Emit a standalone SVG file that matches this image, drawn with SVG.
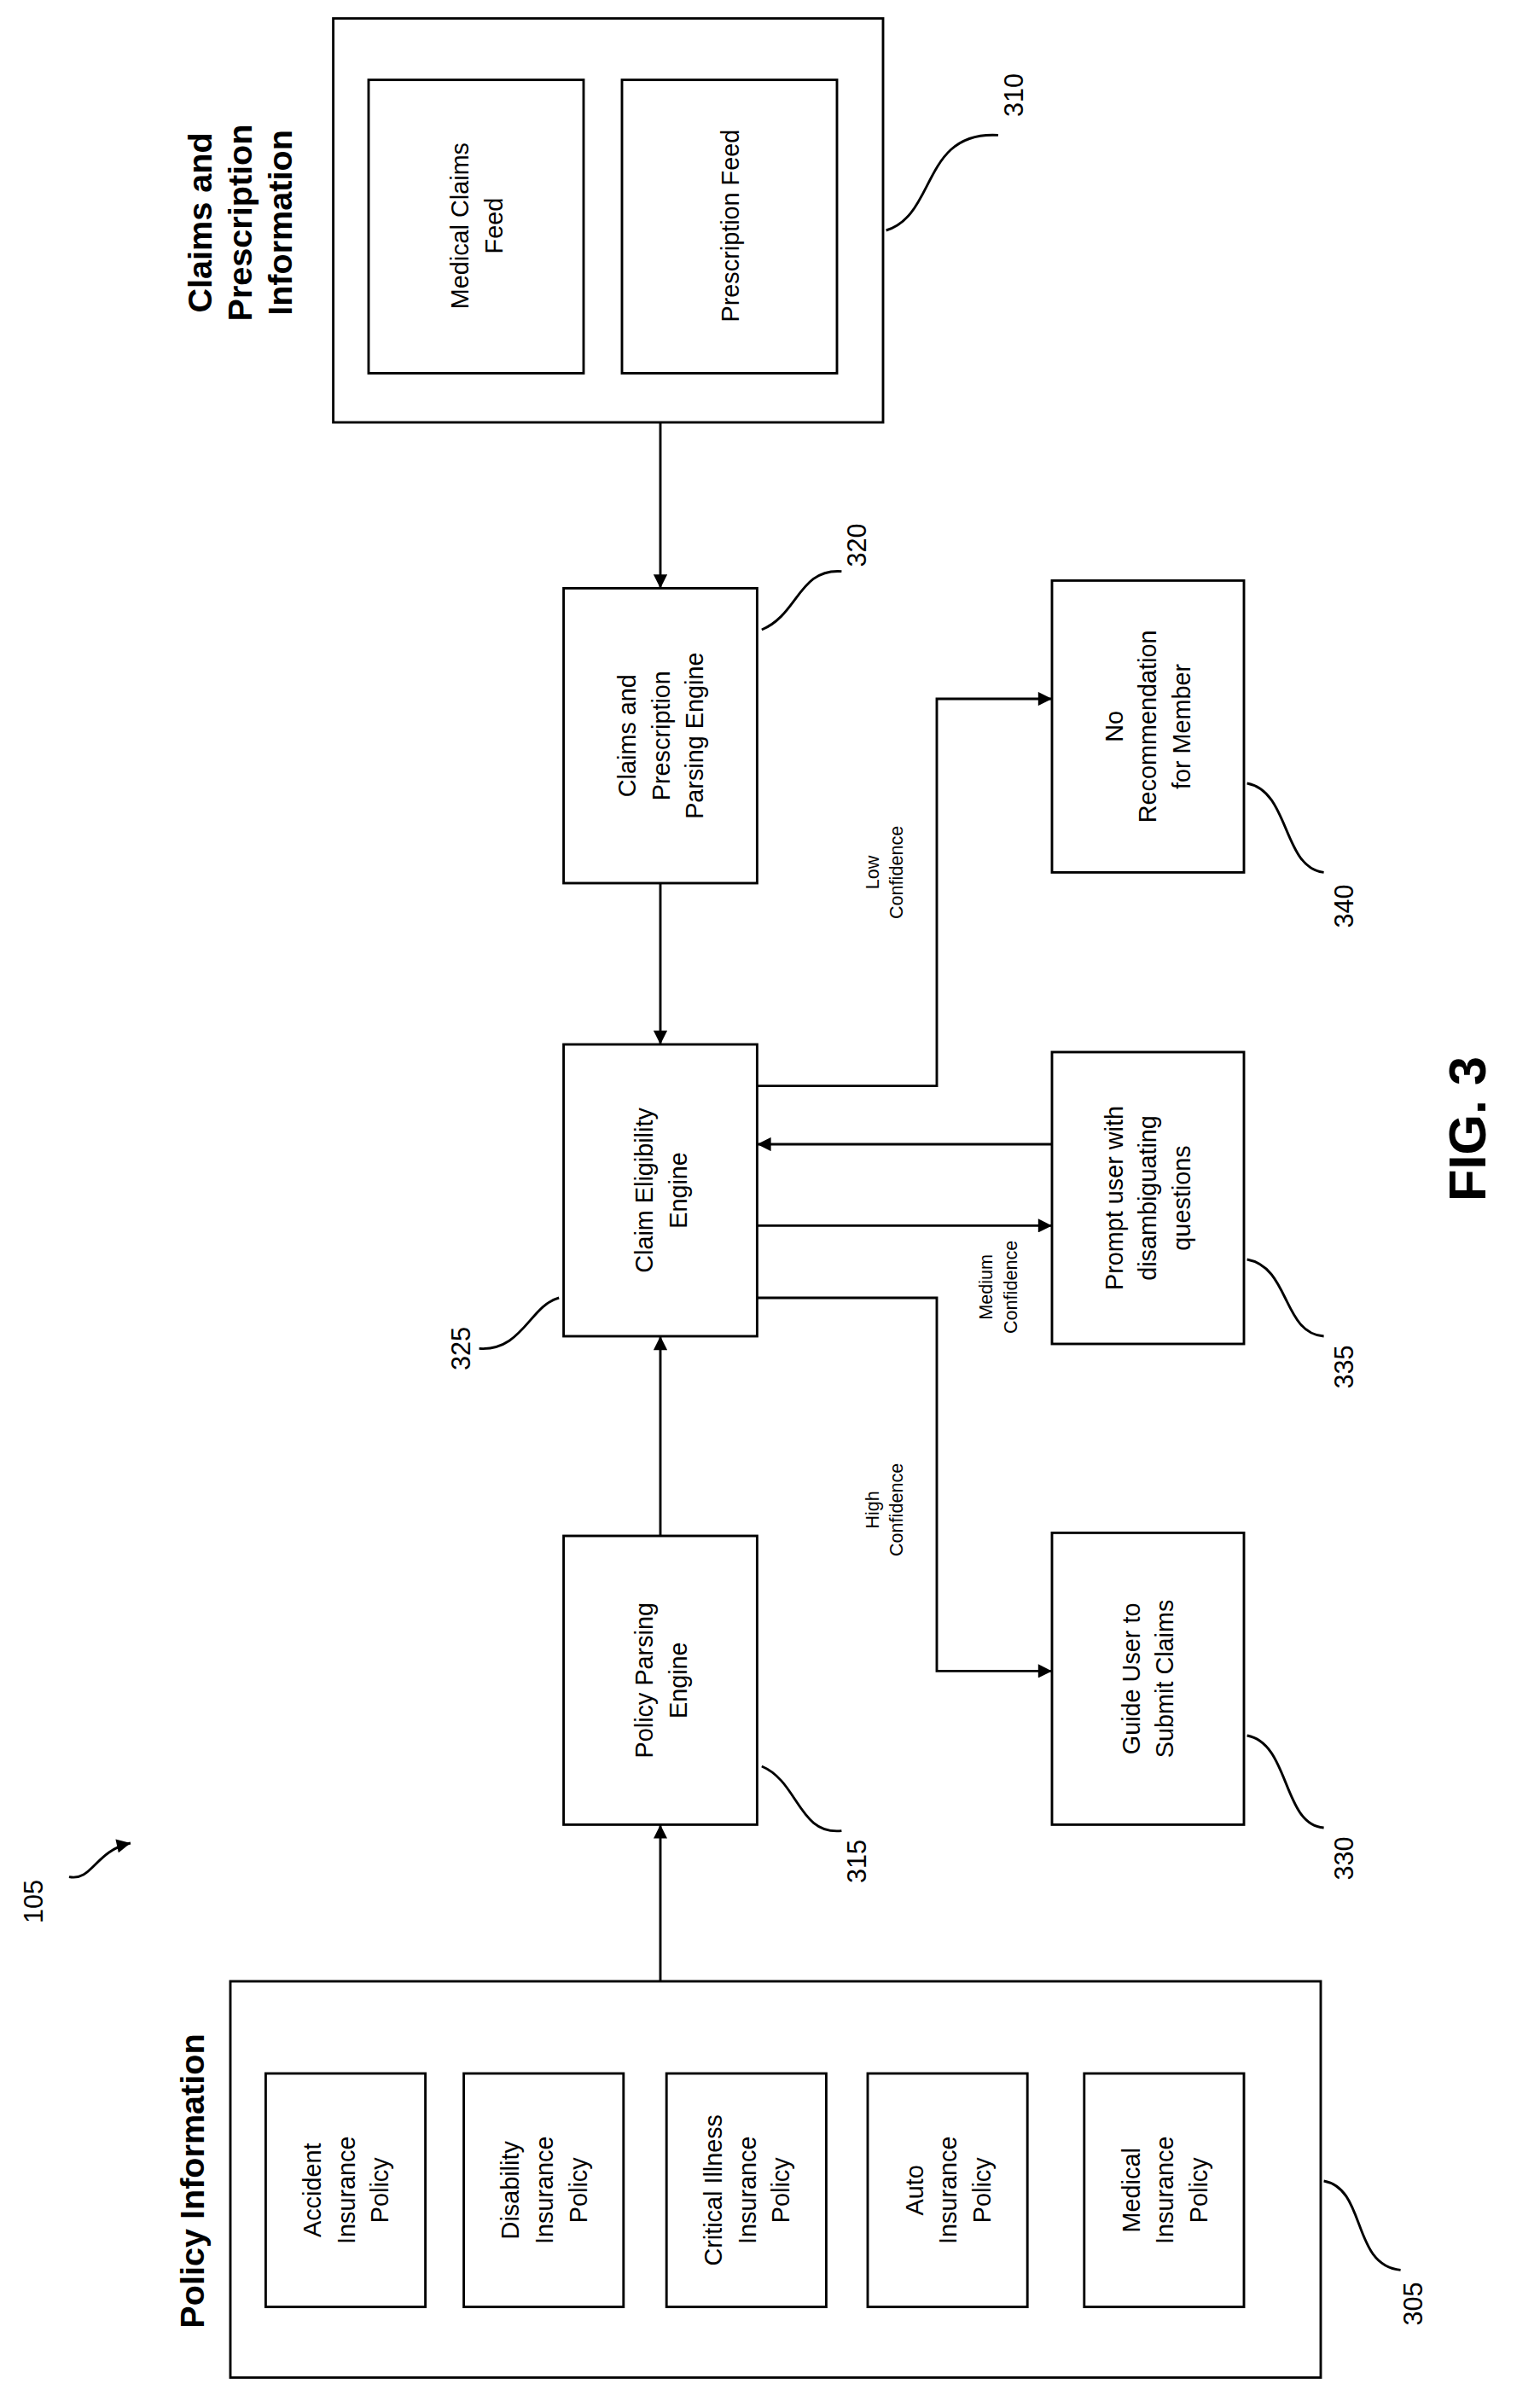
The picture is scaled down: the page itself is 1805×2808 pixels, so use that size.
<svg xmlns="http://www.w3.org/2000/svg" width="1805" height="2808" viewBox="0 0 1805 2808">
<defs>
<marker id="ah" viewBox="0 0 10 10" refX="10" refY="5" markerWidth="10" markerHeight="9" markerUnits="userSpaceOnUse" orient="auto"><path d="M0,0 L10,5 L0,10 Z" fill="#000"/></marker>
<style>
rect{fill:#fff;stroke:#000;stroke-width:1.6}
.c{fill:none;stroke:#000;stroke-width:1.6}
text{font-family:"Liberation Sans",Arial,sans-serif;text-anchor:middle;fill:#000}
.t{font-size:16px}
.b{font-size:22px;font-weight:bold}
.n{font-size:17px}
.s{font-size:12px}
</style>
</defs>
<rect x="0" y="0" width="1805" height="2808" style="stroke:none"/>
<g transform="scale(1.8)">
<g id="n310">
<rect x="217" y="12" width="358" height="263"/>
<rect x="240" y="52" width="140" height="191"/>
<rect x="405" y="52" width="140" height="191"/>
<text class="t" transform="translate(310,147) rotate(-90)"><tspan x="0" dy="-5">Medical Claims</tspan><tspan x="0" dy="22">Feed</tspan></text>
<text class="t" transform="translate(475,147) rotate(-90)"><tspan x="0" dy="6">Prescription Feed</tspan></text>
<text class="b" transform="translate(157,145) rotate(-90)"><tspan x="0" dy="-19">Claims and</tspan><tspan x="0" dy="26">Prescription</tspan><tspan x="0" dy="26">Information</tspan></text>
<text class="n" transform="translate(660,62) rotate(-90)" dy="6">310</text>
<path class="c" d="M577,150 C610,140 600,85 650,88"/>
</g>
<g id="n320">
<rect x="367" y="383" width="126" height="192"/>
<text class="t" transform="translate(430,479) rotate(-90)"><tspan x="0" dy="-16">Claims and</tspan><tspan x="0" dy="22">Prescription</tspan><tspan x="0" dy="22">Parsing Engine</tspan></text>
<text class="n" transform="translate(558,355) rotate(-90)" dy="6">320</text>
<path class="c" d="M496,410 C520,400 520,370 548,372"/>
</g>
<g id="n325">
<rect x="367" y="680" width="126" height="190"/>
<text class="t" transform="translate(430,775) rotate(-90)"><tspan x="0" dy="-5">Claim Eligibility</tspan><tspan x="0" dy="22">Engine</tspan></text>
<text class="n" transform="translate(300,878) rotate(-90)" dy="6">325</text>
<path class="c" d="M364,845 C345,850 340,880 312,878"/>
</g>
<g id="n315">
<rect x="367" y="1000" width="126" height="188"/>
<text class="t" transform="translate(430,1094) rotate(-90)"><tspan x="0" dy="-5">Policy Parsing</tspan><tspan x="0" dy="22">Engine</tspan></text>
<text class="n" transform="translate(558,1212) rotate(-90)" dy="6">315</text>
<path class="c" d="M496,1150 C520,1160 520,1195 548,1192"/>
</g>
<g id="n305">
<rect x="150" y="1290" width="710" height="258"/>
<text class="b" transform="translate(125,1420) rotate(-90)" dy="8">Policy Information</text>
<rect x="173" y="1350" width="104" height="152"/>
<rect x="302" y="1350" width="104" height="152"/>
<rect x="434" y="1350" width="104" height="152"/>
<rect x="565" y="1350" width="104" height="152"/>
<rect x="706" y="1350" width="104" height="152"/>
<text class="t" transform="translate(225,1426) rotate(-90)"><tspan x="0" dy="-16">Accident</tspan><tspan x="0" dy="22">Insurance</tspan><tspan x="0" dy="22">Policy</tspan></text>
<text class="t" transform="translate(354,1426) rotate(-90)"><tspan x="0" dy="-16">Disability</tspan><tspan x="0" dy="22">Insurance</tspan><tspan x="0" dy="22">Policy</tspan></text>
<text class="t" transform="translate(486,1426) rotate(-90)"><tspan x="0" dy="-16">Critical Illness</tspan><tspan x="0" dy="22">Insurance</tspan><tspan x="0" dy="22">Policy</tspan></text>
<text class="t" transform="translate(617,1426) rotate(-90)"><tspan x="0" dy="-16">Auto</tspan><tspan x="0" dy="22">Insurance</tspan><tspan x="0" dy="22">Policy</tspan></text>
<text class="t" transform="translate(758,1426) rotate(-90)"><tspan x="0" dy="-16">Medical</tspan><tspan x="0" dy="22">Insurance</tspan><tspan x="0" dy="22">Policy</tspan></text>
<text class="n" transform="translate(920,1500) rotate(-90)" dy="6">305</text>
<path class="c" d="M862,1420 C890,1425 880,1475 912,1478"/>
</g>
<g id="n105">
<text class="n" transform="translate(22,1238) rotate(-90)" dy="6">105</text>
<path class="c" d="M45,1222 C60,1225 62,1205 85,1200" marker-end="url(#ah)"/>
</g>
<g id="n340">
<rect x="685" y="378" width="125" height="190"/>
<text class="t" transform="translate(747,473) rotate(-90)"><tspan x="0" dy="-16">No</tspan><tspan x="0" dy="22">Recommendation</tspan><tspan x="0" dy="22">for Member</tspan></text>
<text class="n" transform="translate(875,590) rotate(-90)" dy="6">340</text>
<path class="c" d="M812,510 C840,515 835,565 862,568"/>
</g>
<g id="n335">
<rect x="685" y="685" width="125" height="190"/>
<text class="t" transform="translate(747,780) rotate(-90)"><tspan x="0" dy="-16">Prompt user with</tspan><tspan x="0" dy="22">disambiguating</tspan><tspan x="0" dy="22">questions</tspan></text>
<text class="n" transform="translate(875,890) rotate(-90)" dy="6">335</text>
<path class="c" d="M812,820 C840,825 835,868 862,870"/>
</g>
<g id="n330">
<rect x="685" y="998" width="125" height="190"/>
<text class="t" transform="translate(747,1093) rotate(-90)"><tspan x="0" dy="-5">Guide User to</tspan><tspan x="0" dy="22">Submit Claims</tspan></text>
<text class="n" transform="translate(875,1210) rotate(-90)" dy="6">330</text>
<path class="c" d="M812,1130 C840,1135 835,1188 862,1190"/>
</g>
<g id="connectors">
<path class="c" d="M430,275 V383" marker-end="url(#ah)"/>
<path class="c" d="M430,575 V680" marker-end="url(#ah)"/>
<path class="c" d="M430,1000 V870" marker-end="url(#ah)"/>
<path class="c" d="M430,1290 V1188" marker-end="url(#ah)"/>
<path class="c" d="M493,707 H610 V455 H685" marker-end="url(#ah)"/>
<path class="c" d="M685,745 H493" marker-end="url(#ah)"/>
<path class="c" d="M493,798 H685" marker-end="url(#ah)"/>
<path class="c" d="M493,845 H610 V1088 H685" marker-end="url(#ah)"/>
<text class="s" transform="translate(576,568) rotate(-90)"><tspan x="0" dy="-4">Low</tspan><tspan x="0" dy="16">Confidence</tspan></text>
<text class="s" transform="translate(650,838) rotate(-90)"><tspan x="0" dy="-4">Medium</tspan><tspan x="0" dy="16">Confidence</tspan></text>
<text class="s" transform="translate(576,983) rotate(-90)"><tspan x="0" dy="-4">High</tspan><tspan x="0" dy="16">Confidence</tspan></text>
</g>
<text style="font-size:34px;font-weight:bold" transform="translate(955,735) rotate(-90)" dy="12">FIG. 3</text>
</g>
</svg>
